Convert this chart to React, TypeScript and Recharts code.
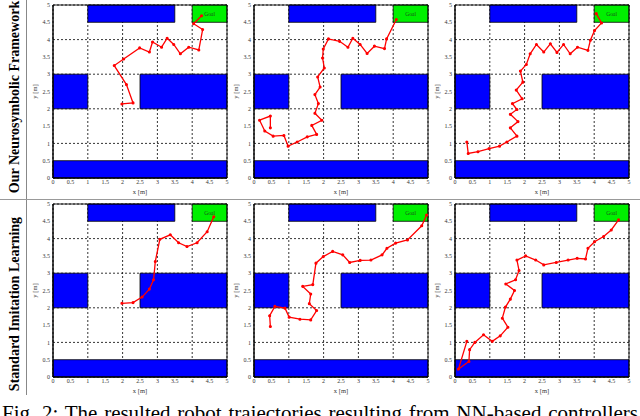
import React from 'react';
import {
   LineChart,
   Line,
   XAxis,
   YAxis,
   CartesianGrid,
   ReferenceArea
} from 'recharts';

// grid / tick positions in metres
const TICKS = [0, 0.5, 1, 1.5, 2, 2.5, 3, 3.5, 4, 4.5, 5];

// obstacles as [x1, x2, y1, y2]
const OBSTACLES: [number, number, number, number][] = [
   [1, 3.5, 4.5, 5],
   [0, 1, 2, 3],
   [2.5, 5, 2, 3],
   [0, 5, 0, 0.5]
];
const GOAL: [number, number, number, number] = [4, 5, 4.5, 5];

const ROW_LABELS = ['Our Neurosymbolic Framework', 'Standard Imitation Learning'];

// trajectories as [x, y] in metres
const nsyStartA: [number, number][] = [
   [1.98, 2.14], [2.3, 2.17], [2.11, 2.7], [1.76, 3.25], [2.03, 3.44], [2.49, 3.76],
   [2.77, 3.64], [2.86, 3.93], [3.12, 3.78], [3.28, 4.04], [3.47, 3.86], [3.66, 3.59],
   [3.9, 3.78], [4.19, 3.7], [4.3, 4.29], [4.04, 4.46], [4.27, 4.69]
];
const nsyStartB: [number, number][] = [
   [0.47, 1.45], [0.47, 1.79], [0.16, 1.67], [0.31, 1.36], [0.55, 1.21], [0.86, 1.23],
   [0.98, 0.92], [1.24, 1.04], [1.53, 1.19], [1.8, 1.26], [1.66, 1.52], [1.95, 1.67],
   [1.75, 1.87], [1.85, 2.15], [1.75, 2.41], [1.9, 2.63], [1.83, 2.92], [2.02, 3.18],
   [1.97, 3.47], [1.99, 3.73], [2.14, 4.02], [2.46, 3.95], [2.7, 3.78], [2.84, 4.04],
   [3.05, 3.86], [3.25, 3.6], [3.46, 3.81], [3.75, 3.74], [3.81, 4.02], [4.09, 4.58]
];
const nsyStartC: [number, number][] = [
   [0.34, 1.04], [0.38, 0.71], [0.66, 0.76], [0.98, 0.85], [1.28, 0.92], [1.49, 1.04],
   [1.78, 1.21], [1.59, 1.45], [1.81, 1.63], [1.59, 1.84], [1.78, 1.98], [1.65, 2.15],
   [1.93, 2.29], [1.76, 2.54], [1.95, 2.77], [1.88, 3.09], [2.05, 3.28], [2.16, 3.59],
   [2.34, 3.86], [2.55, 3.64], [2.74, 3.88], [2.93, 3.63], [3.12, 3.86], [3.31, 3.59],
   [3.52, 3.78], [3.82, 3.69], [3.89, 3.98], [4.01, 4.26], [4.21, 4.48], [4.06, 4.75]
];
const ilStartA: [number, number][] = [
   [1.98, 2.13], [2.3, 2.15], [2.56, 2.31], [2.77, 2.54], [2.89, 2.81], [2.94, 3.34],
   [3.07, 3.98], [3.37, 4.11], [3.61, 3.88], [3.85, 3.77], [4.14, 3.88], [4.43, 4.2],
   [4.62, 4.63]
];
const ilStartB: [number, number][] = [
   [0.47, 1.46], [0.45, 1.77], [0.6, 2.04], [0.89, 1.99], [1.01, 1.73], [1.32, 1.67],
   [1.63, 1.65], [1.8, 1.92], [1.59, 2.12], [1.63, 2.4], [1.4, 2.62], [1.69, 2.67],
   [1.78, 3.29], [1.99, 3.48], [2.26, 3.63], [2.55, 3.53], [2.75, 3.31], [3.05, 3.37],
   [3.36, 3.38], [3.68, 3.53], [3.82, 3.72], [4.07, 3.87], [4.41, 3.96], [4.82, 4.37],
   [4.96, 4.68]
];
const ilStartC: [number, number][] = [
   [0.34, 1.03], [0.1, 0.23], [0.4, 0.45], [0.42, 0.79], [0.57, 1.0], [0.82, 1.22],
   [1.07, 1.03], [1.3, 1.19], [1.52, 1.44], [1.36, 1.7], [1.45, 2.02], [1.59, 2.25],
   [1.71, 2.5], [1.46, 2.69], [1.74, 2.81], [1.84, 3.08], [1.78, 3.38], [2.03, 3.5],
   [2.32, 3.38], [2.55, 3.24], [2.91, 3.31], [3.25, 3.38], [3.51, 3.43], [3.75, 3.41],
   [3.82, 3.72], [4.01, 3.91], [4.27, 4.06], [4.49, 4.25], [4.7, 4.54]
];

const FONT = '"Liberation Serif", "DejaVu Serif", serif';

const Panel = ({ path, left, top }: { path: [number, number][]; left: number; top: number }) => {
   const data = path.map(([x, y]) => ({ x, y }));
   return (
      <div style={{ position: 'absolute', left, top }}>
         <LineChart
            width={204}
            height={200}
            data={data}
            margin={{ top: 5, right: 6, left: 0, bottom: 0 }}
            style={{ fontFamily: FONT }}
         >
            <CartesianGrid stroke='#000' strokeDasharray='2 2' strokeWidth={0.8} />
            <XAxis
               type='number'
               dataKey='x'
               domain={[0, 5]}
               ticks={TICKS}
               allowDataOverflow
               height={22}
               tickLine={false}
               tickSize={0}
               tickMargin={2}
               stroke='#000'
               tick={{ fill: '#333', fontSize: 6 }}
               label={{ value: 'x [m]', position: 'insideBottom', offset: 6, fontSize: 6.5, fill: '#333' }}
            />
            <YAxis
               type='number'
               domain={[0, 5]}
               ticks={TICKS}
               allowDataOverflow
               width={24}
               tickLine={false}
               tickSize={0}
               tickMargin={3}
               stroke='#000'
               tick={{ fill: '#333', fontSize: 6 }}
               label={{
                  value: 'y [m]',
                  angle: -90,
                  position: 'insideLeft',
                  offset: 6,
                  fontSize: 6.5,
                  fill: '#333',
                  style: { textAnchor: 'middle' }
               }}
            />
            {OBSTACLES.map(([x1, x2, y1, y2], i) => (
               <ReferenceArea
                  key={i}
                  x1={x1}
                  x2={x2}
                  y1={y1}
                  y2={y2}
                  fill='#0000ff'
                  fillOpacity={1}
                  stroke='#000'
                  strokeWidth={0.8}
               />
            ))}
            <ReferenceArea
               x1={GOAL[0]}
               x2={GOAL[1]}
               y1={GOAL[2]}
               y2={GOAL[3]}
               fill='#00f000'
               fillOpacity={1}
               stroke='#000'
               strokeWidth={0.8}
               label={{ value: 'Goal', position: 'center', fontSize: 5.5, fill: '#1d4d1d' }}
            />
            <ReferenceArea x1={0} x2={5} y1={0} y2={5} fill='none' stroke='#000' strokeWidth={0.9} />
            <Line
               dataKey='y'
               stroke='#ff0000'
               strokeWidth={1.3}
               dot={{ r: 0.9, fill: '#ff0000', stroke: '#ff0000' }}
               isAnimationActive={false}
            />
         </LineChart>
      </div>
   );
};

const rowLabel = (text: string, cy: number) => (
   <div
      style={{
         position: 'absolute',
         left: 15,
         top: cy,
         transform: 'translate(-50%, -50%) rotate(-90deg)',
         whiteSpace: 'nowrap',
         fontFamily: FONT,
         fontWeight: 'bold',
         fontSize: 14,
         color: '#000'
      }}
   >
      {text}
   </div>
);

export default function App() {
   return (
      <div
         style={{
            position: 'absolute',
            left: 0,
            top: 0,
            width: 640,
            height: 416,
            overflow: 'hidden',
            background: '#fff'
         }}
      >
         {rowLabel(ROW_LABELS[0], 97)}
         {rowLabel(ROW_LABELS[1], 304)}
         <div style={{ position: 'absolute', left: 26, top: 0, width: 1, height: 395, background: '#888' }} />
         <div style={{ position: 'absolute', left: 0, top: 199, width: 640, height: 1, background: '#999' }} />

         <Panel path={nsyStartA} left={29} top={0} />
         <Panel path={nsyStartB} left={230} top={0} />
         <Panel path={nsyStartC} left={431} top={0} />
         <Panel path={ilStartA} left={29} top={199} />
         <Panel path={ilStartB} left={230} top={199} />
         <Panel path={ilStartC} left={431} top={199} />

         <div
            style={{
               position: 'absolute',
               left: 2,
               top: 401,
               width: 636,
               fontFamily: FONT,
               fontSize: 21,
               lineHeight: '24px',
               whiteSpace: 'nowrap',
               textAlignLast: 'justify',
               textAlign: 'justify'
            }}
         >
            Fig. 2: The resulted robot trajectories resulting from NN-based controllers
         </div>
      </div>
   );
}
